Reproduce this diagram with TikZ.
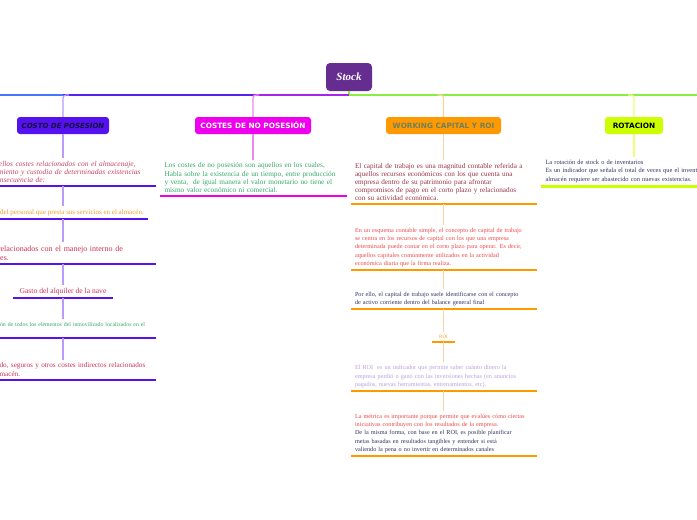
\documentclass[tikz,border=0pt]{standalone}
\usepackage{fontspec}
\setmainfont{Liberation Serif}
\newfontfamily\headfont{DejaVu Sans}
\usepackage{xcolor}
\definecolor{rootc}{HTML}{662D91}
\definecolor{posc}{HTML}{5511EE}
\definecolor{posl}{HTML}{BB99FF}
\definecolor{nopc}{HTML}{EE00EE}
\definecolor{nopl}{HTML}{EE88EE}
\definecolor{wcc}{HTML}{FF9900}
\definecolor{wcl}{HTML}{FFD4A0}
\definecolor{rotc}{HTML}{CCFF00}
\definecolor{rotl}{HTML}{EEFF77}
\definecolor{hubg}{HTML}{88EE44}
\definecolor{hubp}{HTML}{AA22EE}
\definecolor{hubv}{HTML}{5522EE}
\definecolor{hubb}{HTML}{4477FF}
\definecolor{crim}{HTML}{CC3355}
\definecolor{pinkred}{HTML}{CC4466}
\definecolor{orgtxt}{HTML}{F0A030}
\definecolor{grn}{HTML}{33AA66}
\definecolor{wine}{HTML}{993344}
\definecolor{salmon}{HTML}{F04848}
\definecolor{navy}{HTML}{333366}
\definecolor{ink}{HTML}{14103C}
\definecolor{lav}{HTML}{BBA0DD}
\definecolor{olive}{HTML}{6F8060}

\begin{document}
\begin{tikzpicture}[x=1pt,y=-1pt,
  title/.style={rounded corners=3pt, minimum height=17pt, inner sep=0pt, font=\headfont\bfseries\fontsize{7.3}{8}\selectfont},
  txt/.style={text width=178pt, inner xsep=4pt, inner ysep=3pt, align=left, anchor=south, font=\fontsize{7}{8}\selectfont},
  small/.style={txt, font=\fontsize{6.2}{8.3}\selectfont},
  uline/.style={line width=2.5pt},
  link/.style={line width=1.2pt},
  hub/.style={line width=1.5pt}]
  \useasboundingbox (0,0) rectangle (697,520); \fill[white] (0,0) rectangle (697,520); \clip (0,0) rectangle (697,520);

  \node[fill=rootc, rounded corners=4pt, minimum width=46pt, minimum height=28pt, text=white, font=\bfseries\itshape\fontsize{11}{12}\selectfont] (root) at (349,77) {Stock};
  \node[title, fill=posc, minimum width=92pt, text=ink, font=\headfont\bfseries\itshape\fontsize{7}{8}\selectfont] (pos) at (63,125.5) {COSTO DE POSESION};
  \node[title, fill=nopc, minimum width=116pt, text=white] (nop) at (253,125.5) {COSTES DE NO POSESIÓN};
  \node[title, fill=wcc, minimum width=115pt, text=olive] (wc) at (443.5,125.5) {WORKING CAPITAL Y ROI};
  \node[title, fill=rotc, minimum width=58pt, text=black] (rot) at (634,125.5) {ROTACION};

  \coordinate (hubc) at (349,95); \coordinate (edgeL) at (0,95); \coordinate (edgeR) at (697,95);
  \draw[hub, hubg] (root.south) -- (hubc) -- (edgeR);
  \draw[hub, hubp] (hubc) -- (nop.north |- hubc);
  \draw[hub, hubv] (nop.north |- hubc) -- (pos.north |- hubc);
  \draw[hub, hubb] (pos.north |- hubc) -- (edgeL);
  \draw[link, posl, rounded corners=3pt] ([xshift=6pt]pos.north |- hubc) -| (pos.north);
  \draw[link, nopl, rounded corners=3pt] ([xshift=6pt]nop.north |- hubc) -| (nop.north);
  \draw[link, wcl, rounded corners=3pt] ([xshift=-6pt]wc.north |- hubc) -| (wc.north);
  \draw[link, rotl, rounded corners=3pt] ([xshift=-6pt]rot.north |- hubc) -| (rot.north);

  % costo de posesion
  \node[txt, text=pinkred, font=\itshape\fontsize{7.5}{8}\selectfont] (p1) at (63,186) {Son aquellos costes relacionados con el almacenaje,\\ mantenimiento y custodia de determinadas existencias\\ como consecuencia de:};
  \node[txt, text width=, text=orgtxt, font=\fontsize{7}{8}\selectfont, anchor=south east] (p2) at (148,219) {Salario del personal que presta sus servicios en el almacén.};
  \node[txt, text=crim, font=\fontsize{8}{9.5}\selectfont] (p3) at (63,264) {Costes relacionados con el manejo interno de\\ materiales.};
  \node[txt, text width=, inner xsep=6pt, text=crim, font=\fontsize{7.6}{8}\selectfont] (p4) at (63,298) {Gasto del alquiler de la nave};
  \node[txt, text=grn, font=\fontsize{5.8}{8}\selectfont] (p5) at (63,338) {Amortización de todos los elementos del inmovilizado localizados en el\\ almacén.\\[3pt]};
  \node[txt, text=crim, font=\fontsize{7.2}{9}\selectfont] (p6) at (63,380) {Alumbrado, seguros y otros costes indirectos relacionados\\ con el almacén.};
  \foreach \n in {p1,p2,p3,p4,p5,p6} \draw[uline, posc] (\n.south west) -- (\n.south east);
  \draw[link, posl] (pos.south) -- (pos.south |- p1.north);
  \draw[link, posl] (p1.south) -- (p1.south |- p2.north); \draw[link, posl] (p2.south -| p1.south) -- (p1.south |- p3.north);
  \draw[link, posl] (p3.south) -- (p3.south |- p4.north); \draw[link, posl] (p4.south) -- (p4.south |- p5.north);
  \draw[link, posl] (p5.south) -- (p5.south |- p6.north);

  % costes de no posesion
  \node[txt, text=grn, font=\fontsize{7.3}{8.3}\selectfont] (m1) at (253.5,196) {Los costes de no posesión son aquellos en los cuales,\\ Habla sobre la existencia de un tiempo, entre producción\\ y venta,\ \ de igual manera el valor monetario no tiene el\\ mismo valor económico ni comercial.};
  \draw[uline, nopc] (m1.south west) -- (m1.south east);
  \draw[link, nopl] (nop.south) -- (nop.south |- m1.north);

  % working capital y roi
  \node[txt, text=wine, font=\fontsize{7.2}{8}\selectfont] (w1) at (444,204) {El capital de trabajo es una magnitud contable referida a\\ aquellos recursos económicos con los que cuenta una\\ empresa dentro de su patrimonio para afrontar\\ compromisos de pago en el corto plazo y relacionados\\ con su actividad económica.};
  \node[small, text=salmon] (w2) at (444,270) {En un esquema contable simple, el concepto de capital de trabajo\\ se centra en los recursos de capital con los que una empresa\\ determinada puede contar en el corto plazo para operar. Es decir,\\ aquellos capitales comúnmente utilizados en la actividad\\ económica diaria que la firma realiza.};
  \node[small, text=navy] (w3) at (444,309) {Por ello, el capital de trabajo suele identificarse con el concepto\\ de activo corriente dentro del balance general final};
  \node[txt, text width=, minimum width=23pt, inner xsep=0pt, text=orgtxt, font=\fontsize{5}{6}\selectfont] (w4) at (443.5,342) {ROI};
  \node[small, text=lav] (w5) at (444,391) {El ROI\ \ es un indicador que permite saber cuánto dinero la\\ empresa perdió o ganó con las inversiones hechas (en anuncios\\ pagados, nuevas herramientas, entrenamientos, etc).};
  \node[small] (w6) at (444,456) {\textcolor{salmon}{La métrica es importante porque permite que evalúes cómo ciertas\\ iniciativas contribuyen con los resultados de la empresa.}\\ \textcolor{navy}{De la misma forma, con base en el ROI, es posible planificar\\ metas basadas en resultados tangibles y entender si está\\ valiendo la pena o no invertir en determinados canales}};
  \foreach \n in {w1,w2,w3,w4,w5,w6} \draw[uline, wcc] (\n.south west) -- (\n.south east);
  \draw[link, wcl] (wc.south) -- (wc.south |- w1.north);
  \foreach \a/\b in {w1/w2,w2/w3,w3/w4,w4/w5,w5/w6} \draw[link, wcl] (\a.south -| wc.south) -- (wc.south |- \b.north);

  % rotacion
  \node[small, text=navy, font=\fontsize{6.4}{8.5}\selectfont] (r1) at (634.5,186) {La rotación de stock o de inventarios\\ Es un indicador que señala el total de veces que el inventario del\\ almacén requiere ser abastecido con nuevas existencias.};
  \draw[uline, rotc, line width=3pt] (r1.south west) -- (r1.south east);
  \draw[link, rotl] (rot.south) -- (rot.south |- r1.north);
\end{tikzpicture}
\end{document}
